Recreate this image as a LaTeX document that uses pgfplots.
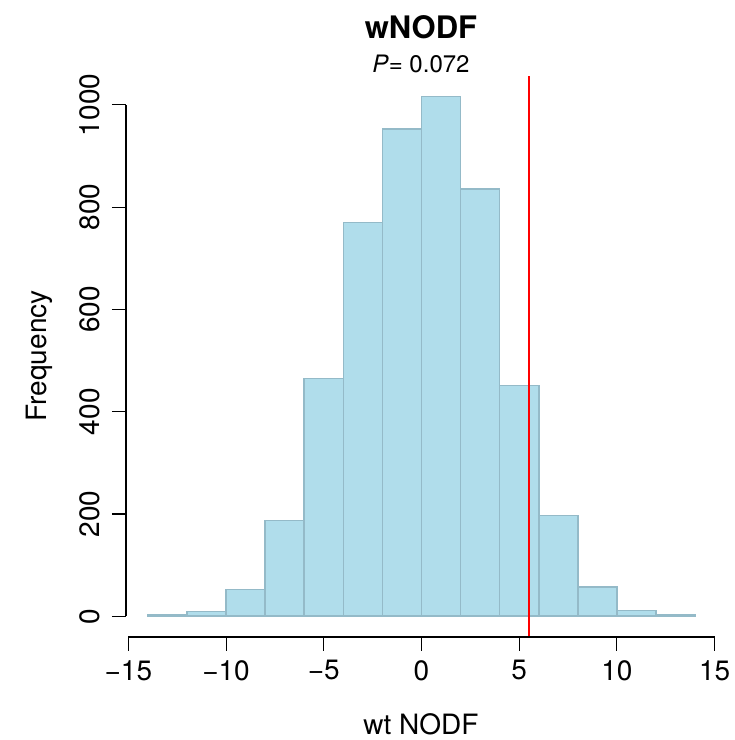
\documentclass[border=0pt]{standalone}
\usepackage{pgfplots}
\pgfplotsset{compat=1.18}
\usepackage{fontspec}
\setmainfont{TeX Gyre Heros}
\definecolor{histfill}{RGB}{176,221,235}
\definecolor{histedge}{RGB}{148,186,200}
\begin{document}
\begin{tikzpicture}
\useasboundingbox (0,0) rectangle (735bp,740bp);
\begin{axis}[
  at={(126bp,103bp)}, anchor=south west,
  scale only axis, width=591bp, height=561bp,
  xmin=-15.12, xmax=15.12, ymin=-40.64, ymax=1056.6,
  axis x line*=bottom, axis y line*=left,
  axis line style={draw=none},
  tick align=outside,
  major tick length=14bp,
  every tick/.style={black, line width=1.1bp},
  xtick={-15,-10,-5,0,5,10,15},
  xticklabels={−15,−10,−5,0,5,10,15},
  ytick={0,200,400,600,800,1000},
  yticklabels={0,200,400,600,800,1000},
  tick label style={font=\fontsize{28bp}{32bp}\selectfont},
  yticklabel style={rotate=90, anchor=south, yshift=9bp},
  xticklabel style={anchor=north, yshift=-6bp},
  clip=false,
]
\addplot[ybar interval, fill=histfill, draw=histedge, line width=1.5bp] coordinates {
(-14,2) (-12,9) (-10,52) (-8,187) (-6,465) (-4,770) (-2,953) (0,1016) (2,836) (4,451) (6,197) (8,57) (10,11) (12,2) (14,2)};
\addplot[red, line width=1.6bp] coordinates {(5.5,-40.64) (5.5,1056.6)};
\draw[line width=1.1bp] (axis cs:-15,-40.64) -- (axis cs:15,-40.64);
\draw[line width=1.1bp] (axis cs:-15.12,0) -- (axis cs:-15.12,1000);
\end{axis}
\node[font=\bfseries\fontsize{31bp}{36bp}\selectfont] at (421bp,713bp) {wNODF};
\node[font=\fontsize{24bp}{28bp}\selectfont] at (421bp,676bp) {\textit{P}= 0.072};
\node[font=\fontsize{28bp}{32bp}\selectfont] at (421bp,16bp) {wt NODF};
\node[rotate=90, font=\fontsize{28bp}{32bp}\selectfont] at (39bp,384bp) {Frequency};
\end{tikzpicture}
\end{document}
